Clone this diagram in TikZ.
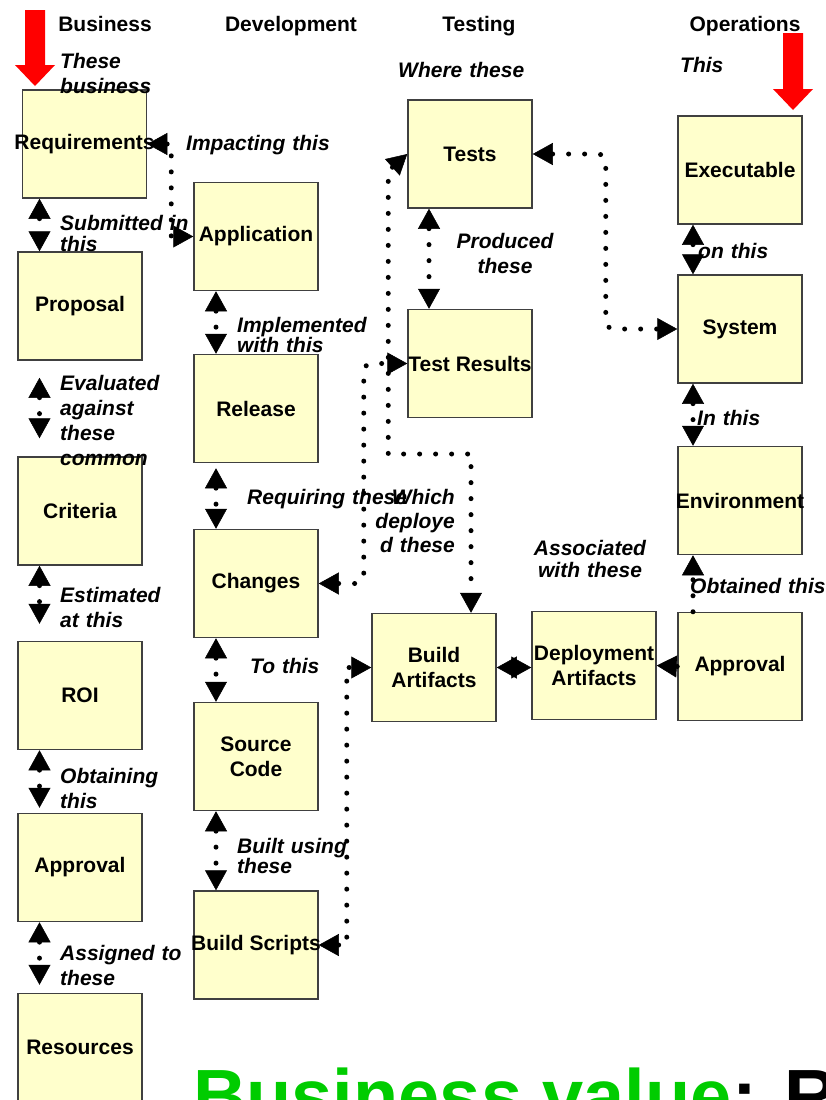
\documentclass[tikz,border=0pt]{standalone}
\usepackage{fontspec}
\setmainfont{Liberation Sans}
\usetikzlibrary{arrows.meta,calc}
\definecolor{boxfill}{HTML}{FFFFCC}
\definecolor{boxline}{HTML}{404040}
\definecolor{bvgreen}{HTML}{00CC00}
\definecolor{redarrow}{HTML}{FF0000}
\newcommand{\nw}[1]{\makebox[0pt][c]{#1}}
\begin{document}
\begin{tikzpicture}[x=1pt,y=-1pt,
 box/.style={draw=boxline,line width=1.5pt,fill=boxfill,minimum width=124pt,minimum height=108pt,inner sep=0pt,align=center,font=\bfseries\fontsize{21}{25}\selectfont},
 hdr/.style={inner sep=0pt,anchor=base,font=\bfseries\fontsize{21}{25}\selectfont},
 lbl/.style={inner sep=0pt,anchor=base west,text width=200pt,align=left,font=\bfseries\itshape\fontsize{21}{#1}\selectfont},
 lbl/.default=25,
 lblc/.style={lbl=#1,anchor=base,align=center},
 lblc/.default=25,
 lblr/.style={lbl=#1,anchor=base east,align=right},
 lblr/.default=25,
 conn/.style={line width=5pt,line cap=round,dash pattern=on 0pt off 16pt},
 >={Triangle[length=20pt,width=22pt,line width=0.5pt]},
]
\useasboundingbox (0,0) rectangle (826,1100);

% column reference coordinates
\coordinate (cL) at (39.5,0);
\coordinate (cD) at (216,0);
\coordinate (cT) at (429,0);
\coordinate (cO) at (693,0);

% headers
\node[hdr] (hBus) at (105,31) {Business};
\node[hdr] (hDev) at (291,31) {Development};
\node[hdr] (hTest) at (479,31) {Testing};
\node[hdr] (hOps) at (745,31) {Operations};

% red arrows
\fill[redarrow] (25,10) -- (45,10) -- (45,65) -- (55,65) -- (35,86) -- (15,65) -- (25,65) -- cycle;
\fill[redarrow] (783,33) -- (803,33) -- (803,89) -- (813,89) -- (793,110) -- (773,89) -- (783,89) -- cycle;

% boxes
\node[box] (req) at (84.5,144) {\nw{Requirements}};
\node[box] (proposal) at (80,306) {Proposal};
\node[box] (criteria) at (80,511) {Criteria};
\node[box] (roi) at (80,695.5) {ROI};
\node[box] (approvalL) at (80,867.5) {Approval};
\node[box] (resources) at (80,1047.5) {Resources};
\node[box] (application) at (256,236.5) {Application};
\node[box] (release) at (256,408.5) {Release};
\node[box] (changes) at (256,583.5) {Changes};
\node[box] (source) at (256,756.5) {Source\\Code};
\node[box] (buildscripts) at (256,945) {\nw{Build Scripts}};
\node[box] (tests) at (470,154) {Tests};
\node[box] (testresults) at (470,363.5) {\nw{Test Results}};
\node[box] (executable) at (740,170) {Executable};
\node[box] (system) at (740,329) {System};
\node[box] (environment) at (740,500.5) {\nw{Environment}};
\node[box] (buildartifacts) at (434,667.5) {Build\\Artifacts};
\node[box] (deployment) at (594,665.5) {\nw{Deployment}\\Artifacts};
\node[box] (approvalR) at (740,666.5) {Approval};

% labels
\node[lbl] (l1) at (60,68) {These\\business};
\node[lbl] (l2) at (398,77) {Where these};
\node[lbl] (l3) at (680,72) {This};
\node[lbl] (l4) at (186,150) {Impacting this};
\node[lbl=21] (l5) at (60,230) {Submitted in\\this};
\node[lbl=18] (l6) at (237,332) {Implemented\\with this};
\node[lblc] (l7) at (505,248) {Produced\\these};
\node[lbl] (l8) at (60,390) {Evaluated\\against\\these\\common};
\node[lbl] (l9) at (247,504) {Requiring these};
\node[lblr=24] (l10) at (455,504) {Which\\deploye\\d these};
\node[lbl] (l11) at (60,602) {Estimated\\at this};
\node[lbl] (l12) at (250,673) {To this};
\node[lblc=22] (l13) at (590,555) {Associated\\with these};
\node[lbl] (l14) at (698,258) {on this};
\node[lbl] (l15) at (697,425) {In this};
\node[lbl] (l16) at (690,593) {Obtained this};
\node[lbl] (l17) at (60,783) {Obtaining\\this};
\node[lbl=20] (l18) at (237,853) {Built using\\these};
\node[lbl] (l19) at (60,960) {Assigned to\\these};

% vertical connectors, business column
\draw[conn,<->] (req.south -| cL) -- (proposal.north -| cL);
\draw[conn,<->,shorten <=17pt,shorten >=18pt] (proposal.south -| cL) -- (criteria.north -| cL);
\draw[conn,<->,shorten >=17pt] (criteria.south -| cL) -- (roi.north -| cL);
\draw[conn,<->,shorten >=5pt] (roi.south -| cL) -- (approvalL.north -| cL);
\draw[conn,<->,shorten >=8pt] (approvalL.south -| cL) -- (resources.north -| cL);
% development column
\draw[conn,<->] (application.south -| cD) -- (release.north -| cD);
\draw[conn,<->,shorten <=5pt] (release.south -| cD) -- (changes.north -| cD);
\draw[conn,<->] (changes.south -| cD) -- (source.north -| cD);
\draw[conn,<->] (source.south -| cD) -- (buildscripts.north -| cD);
% testing column
\draw[conn,<->] (tests.south -| cT) -- (testresults.north -| cT);
% operations column
\draw[conn,<->] (executable.south -| cO) -- (system.north -| cO);
\draw[conn,<->] (system.south -| cO) -- (environment.north -| cO);
\draw[conn,->] (approvalR.north -| cO) -- (environment.south -| cO);
% horizontal
\draw[conn,->] (approvalR.west) -- (deployment.east);
\draw[conn,<->] (buildartifacts.east) -- (deployment.west |- buildartifacts.east);
% elbow connectors
\draw[conn,<->] (req.east) -- ++(24,0) |- (application.west);
\draw[conn,<->] (tests.west) -- ++(-19,17) -- ++(0,283) -| ([xshift=37pt]buildartifacts.north);
\draw[conn,<->,rounded corners=8pt] (changes.east) -- ++(45,0) |- (testresults.west);
\draw[conn,<->,rounded corners=8pt] (tests.east) -- ++(73,0) |- (system.west);
\draw[conn,<->] (buildscripts.east) -- ++(28,0) |- (buildartifacts.west);

% bottom title
\node[anchor=base west,inner sep=0pt,font=\bfseries\fontsize{74}{80}\selectfont] (bv) at (193,1121) {\textcolor{bvgreen}{Business value}: R};
\end{tikzpicture}
\end{document}
